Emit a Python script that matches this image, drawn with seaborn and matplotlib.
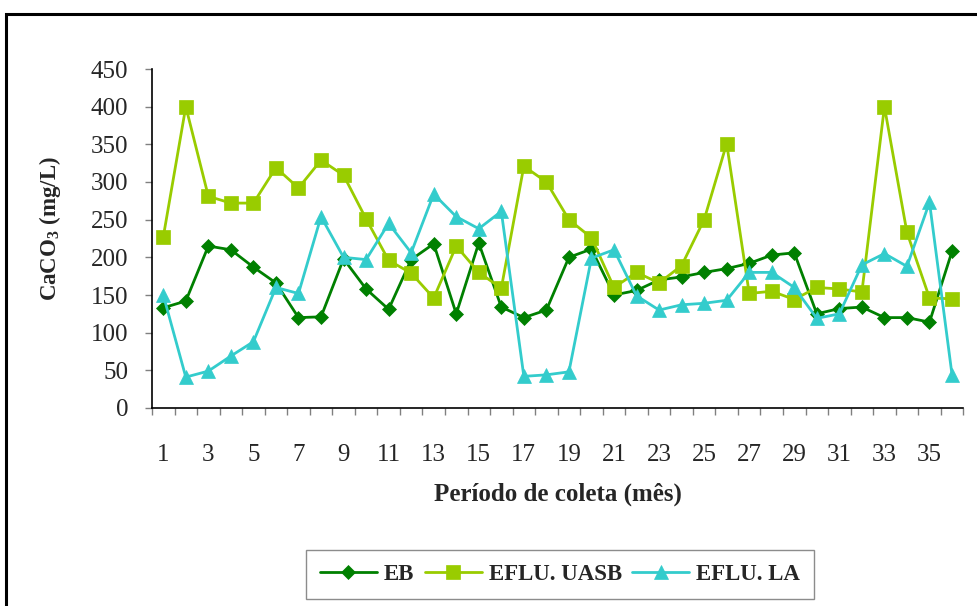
import numpy as np
import pandas as pd
import seaborn as sns
import matplotlib.pyplot as plt
from matplotlib.patches import Rectangle
from matplotlib.ticker import FixedLocator, NullFormatter, FixedFormatter

# ---- data ----------------------------------------------------------------
months = list(range(1, 37))

eb = [133, 142, 215, 210, 187, 166, 120, 121, 198, 158, 131, 197,
      218, 125, 219, 134, 120, 130, 200, 211, 150, 156, 170, 174,
      180, 185, 192, 203, 206, 125, 132, 134, 120, 120, 114, 208]

eflu_uasb = [227, 400, 281, 272, 272, 319, 292, 329, 309, 251, 196, 179,
             146, 215, 180, 159, 321, 300, 250, 226, 160, 180, 166, 189,
             250, 351, 152, 155, 144, 160, 158, 154, 400, 233, 146, 145]

eflu_la = [150, 41, 49, 69, 88, 160, 152, 254, 200, 197, 245, 206,
           284, 254, 238, 261, 42, 44, 48, 199, 210, 149, 130, 137,
           139, 143, 180, 180, 160, 119, 125, 190, 205, 188, 273, 44]

series_names = ["EB", "EFLU. UASB", "EFLU. LA"]
series_values = [eb, eflu_uasb, eflu_la]
colors = ["#008000", "#99CC00", "#33CCCC"]
markers = ["D", "s", "^"]
marker_sizes = [6.8, 10, 10]

y_ticks = list(range(0, 451, 50))
x_tick_labels = [str(m) for m in months if m % 2 == 1]

sns.set_theme(style="white")
plt.rcParams["font.family"] = ["Liberation Serif", "DejaVu Serif"]
plt.rcParams["mathtext.fontset"] = "custom"
plt.rcParams["mathtext.rm"] = "Liberation Serif"
plt.rcParams["mathtext.bf"] = "Liberation Serif:bold"

fig = plt.figure(figsize=(9.78, 6.06), dpi=100)
ax = fig.add_axes([152 / 978, 1 - 408 / 606, (963.3 - 152) / 978, (408 - 69) / 606])

for name, vals, c, m, ms in zip(series_names, series_values, colors, markers, marker_sizes):
    df = pd.DataFrame({"month": months, "value": vals})
    sns.lineplot(data=df, x="month", y="value", ax=ax, color=c, marker=m,
                 markersize=ms, markeredgecolor=c, markeredgewidth=0.5,
                 linewidth=2.0, label=name)

ax.set_xlim(0.5, 36.5)
ax.set_ylim(0, 450)
ax.set_yticks(y_ticks)

# tick marks between categories, labels on odd months
ax.xaxis.set_major_locator(FixedLocator(np.arange(0.5, 37, 1)))
ax.xaxis.set_major_formatter(NullFormatter())
ax.xaxis.set_minor_locator(FixedLocator([m for m in months if m % 2 == 1]))
ax.xaxis.set_minor_formatter(FixedFormatter(x_tick_labels))
ax.tick_params(axis="x", which="major", direction="out", length=5, width=1,
               color="#808080", bottom=True)
ax.tick_params(axis="x", which="minor", length=0, pad=26, labelsize=18)
ax.tick_params(axis="y", direction="out", length=5, width=1, color="#808080",
               left=True, pad=12, labelsize=18)

for s in ["top", "right"]:
    ax.spines[s].set_visible(False)
for s in ["left", "bottom"]:
    ax.spines[s].set_color("black")
    ax.spines[s].set_linewidth(1.2)

ax.set_xlabel("Período de coleta (mês)", fontsize=18, fontweight="bold")
ax.set_ylabel(r"CaCO$_\mathbf{3}$ (mg/L)", fontsize=16.5, fontweight="bold")
ax.xaxis.set_label_coords(0.5, -(483 - 408) / (408 - 69))
ax.yaxis.set_label_coords(-(152 - 63) / (963.3 - 152), (408 - 228) / (408 - 69))

handles, labels = ax.get_legend_handles_labels()
ax.get_legend().remove()
leg = fig.legend(handles, labels, loc="center", bbox_to_anchor=(560 / 978, 1 - 574.5 / 606),
                 ncol=3, frameon=True, fancybox=False, edgecolor="#707070",
                 prop={"weight": "bold", "size": 16.5}, handlelength=2.5,
                 columnspacing=0.45, handletextpad=0.3, borderpad=0.6)
leg.get_frame().set_linewidth(1.0)

# outer chart border (cut off at right and bottom as in the reference)
fig.patches.append(Rectangle((5.5 / 978, -0.05), 1.2, 1 - 14 / 606 + 0.05,
                             transform=fig.transFigure, fill=False,
                             edgecolor="black", linewidth=2.2, clip_on=False))

fig.savefig("out.png", dpi=100)
